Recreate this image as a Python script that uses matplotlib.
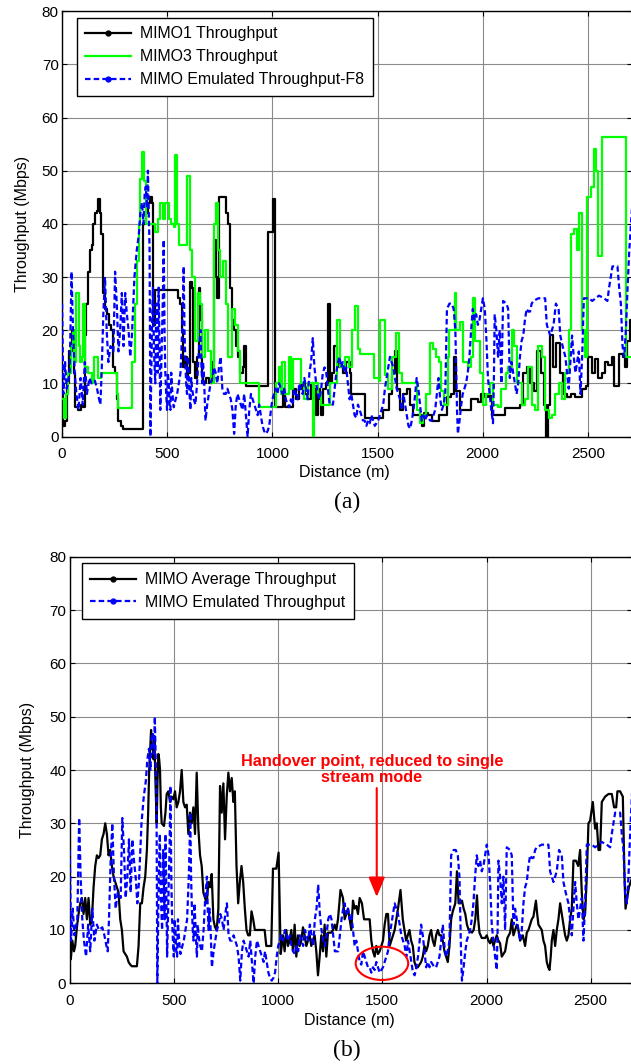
import matplotlib
matplotlib.use("Agg")
import matplotlib.pyplot as plt
from matplotlib.lines import Line2D
from matplotlib.patches import Ellipse

# ---------------- data (distance m, throughput Mbps) ----------------
mimo1 = [(0,8),(5,2),(15,3),(25,10),(35,16),(45,20),(55,12),(62,5.5),(75,5),(90,6),(100,5.5),
 (108,19),(116,25),(124,31),(132,35),(140,36),(148,40),(156,42),(164,42.5),(172,44.7),(180,42),
 (187,38),(196,27),(205,24),(212,23),(222,21),(232,20),(242,13),(252,12),(260,7),(268,3),(278,2),
 (290,1.5),(380,1.5),(387,40),(397,42),(407,44),(417,45),(427,44),(433,21),(440,27.5),(540,27.5),
 (550,26),(560,25),(568,20),(576,13),(585,15),(592,11),(600,12),(608,29),(616,28),(622,14),(632,11),
 (642,15),(650,28),(656,22),(664,12),(672,10),(685,11),(700,10),(712,14),(722,37),(730,30),(738,26),
 (746,45),(770,45),(778,42),(790,40),(800,28),(808,22),(816,20),(826,17),(836,15),(846,12),(858,13),
 (866,17),(873,9.5),(977,38.5),(1005,44.7),(1013,5.5),(1040,5.5),(1050,9),(1058,5.5),(1090,5.5),
 (1100,9),(1112,7),(1128,9),(1140,10),(1155,8),(1170,7),(1185,10),(1200,9),(1207,4),(1215,9),
 (1225,7),(1232,4),(1240,9),(1256,10),(1266,25),(1274,10),(1285,12),(1295,17),(1305,14),(1319,13),
 (1335,12),(1350,14),(1367,12),(1375,8),(1431,8),(1439,3.5),(1519,3.5),(1527,5),(1545,5),(1555,8),
 (1570,12),(1583,16),(1593,9),(1606,5),(1620,8),(1640,9),(1654,6),(1670,4),(1702,4),(1710,2),
 (1720,4.5),(1740,4),(1760,3),(1790,4),(1818,4),(1830,7.5),(1850,8),(1862,15),(1875,8.5),(1890,5),
 (1930,5),(1945,7),(1977,6.5),(1993,8),(2009,7.5),(2025,7.7),(2045,4),(2100,4),(2105,5.3),(2170,5.3),
 (2177,6),(2190,12),(2209,13),(2225,10),(2245,8.5),(2258,16),(2275,12),(2292,6),(2302,0),(2310,6),
 (2318,19),(2333,13),(2350,17.5),(2366,12),(2380,8),(2400,7.5),(2420,8),(2440,7.5),(2470,9),
 (2489,9.5),(2502,15),(2518,12),(2535,14.5),(2550,11),(2566,12),(2582,14),(2598,13.5),(2614,15),
 (2626,9.5),(2645,9.5),(2650,15.5),(2665,15),(2676,13),(2688,18),(2700,22),(2710,22)]

mimo3 = [(0,7),(8,3.5),(20,8),(29,12),(40,17),(50,20),(58,14),(68,27),(78,17),(86,14),(93,15),
 (100,25),(108,13),(124,12),(140,10),(150,15),(164,15),(172,11),(185,12),(252,12),(260,8),(268,5.3),
 (325,5.3),(332,14),(348,25),(356,33),(364,40),(370,48.5),(378,53.5),(390,48),(400,40),(430,40),
 (440,38.5),(455,41),(465,44),(478,41),(490,44),(506,41),(520,40),(531,39.5),(538,53),(546,40),
 (556,36),(586,36),(596,49),(606,35),(616,30),(628,30),(634,18),(644,27),(658,25),(666,15),(680,20),
 (694,16),(708,10),(716,10),(722,40),(732,44),(742,35),(752,30),(766,33),(778,25),(790,15),(806,24),
 (820,21),(836,16),(848,10),(929,10),(935,5.5),(1009,5.5),(1016,10),(1030,13),(1040,8),(1048,14),
 (1060,8),(1078,15),(1088,9),(1100,14.5),(1128,14.5),(1136,10),(1150,7),(1170,10),(1185,10),
 (1192,0),(1198,10),(1215,8),(1230,6),(1262,6),(1272,10),(1300,10),(1308,22),(1322,13),(1345,15),
 (1362,13),(1378,20),(1395,24.5),(1405,16.5),(1415,15.5),(1470,15.5),(1485,11),(1505,10.5),
 (1511,22),(1530,22),(1537,11.5),(1550,9),(1570,15),(1586,19.5),(1600,12),(1615,10),(1670,10),
 (1686,5),(1700,2.5),(1716,4),(1732,8),(1748,17.5),(1766,16.5),(1780,15),(1790,14),(1800,8.5),
 (1818,6),(1835,15),(1842,20),(1860,20),(1866,27),(1874,20),(1890,21.5),(1905,14),(1929,13),
 (1945,15),(1953,26),(1965,18),(1985,12),(2001,6),(2017,8),(2033,10),(2050,6),(2073,5.5),(2089,9),
 (2110,12),(2121,13),(2137,20),(2150,17),(2165,10),(2185,6),(2201,7),(2217,13),(2233,6),(2249,5),
 (2265,17),(2281,15),(2297,5),(2313,3.5),(2329,4),(2345,8),(2361,10),(2377,7),(2393,12),(2409,20),
 (2420,38),(2435,39),(2450,35),(2460,42),(2470,20),(2485,15),(2498,45),(2515,47),(2527,54),
 (2538,50),(2548,34),(2563,34),(2569,56.3),(2677,56.3),(2682,15),(2710,15)]

emulated = [(0,25),(6,8),(14,14),(22,9),(36,12),(45,31),(52,20),(60,12),(68,8),(78,5),(88,11),(98,6),
 (108,14),(118,8),(130,11),(140,10),(156,10.5),(166,9),(176,7),(182,6),(188,12),(196,23),(204,30),
 (212,20),(220,14),(230,17),(244,16),(252,31),(260,25),(268,16),(276,20),(284,27),(292,17),(300,27),
 (308,23),(316,20),(324,15),(332,19),(344,30),(355,35),(365,38),(372,42),(380,44),(387,40),(393,46),
 (398,47),(404,43),(408,50),(413,40),(416,35),(420,0),(424,12),(427,20),(432,28),(437,16),(443,10),
 (448,25),(451,20),(455,12),(459,28),(463,18),(467,5),(472,14),(475,20),(479,26),(483,37),(487,20),
 (491,12),(495,8),(499,5),(503,12),(507,10),(511,6),(515,5),(519,12),(523,9),(527,7),(531,5.5),
 (540,7),(547,8),(555,10),(563,12),(567,16),(571,20),(575,26),(578,32),(582,20),(586,14),(590,10),
 (594,8),(598,15),(602,12),(606,8),(610,5),(614,11),(618,9),(626,7),(634,6),(642,10),(650,16),
 (658,20),(662,14),(666,10),(670,14),(674,12),(682,3),(690,6),(698,8),(706,10),(714,11),(722,13),
 (730,12),(738,10),(746,13),(754,15),(762,9),(770,8),(778,8),(786,9),(794,8),(802,7),(810,5),
 (818,0.5),(826,6),(834,8),(842,7),(850,6),(858,5),(866,8),(874,4),(882,0),(890,5),(898,8),(906,7),
 (914,6),(922,5),(930,4),(937,6),(945,4),(953,2),(961,1),(969,0.5),(977,1),(985,2),(993,5),(1000,7),
 (1008,8),(1016,9),(1024,8),(1032,10),(1040,9),(1048,8),(1056,9),(1064,7),(1072,6),(1080,5.5),
 (1088,7),(1096,6),(1104,9),(1112,8),(1120,7),(1128,10),(1136,9),(1144,8),(1152,11),(1160,9),
 (1168,7),(1176,12),(1184,14),(1192,18.5),(1200,13),(1208,10),(1216,8),(1224,7),(1232,9),(1240,12),
 (1248,13),(1256,12),(1264,9),(1272,6),(1288,6),(1296,9),(1304,12),(1312,14),(1319,15),(1327,13),
 (1335,14),(1343,12),(1351,13),(1359,10),(1367,7),(1375,8),(1383,6),(1391,4),(1399,3.5),(1407,6),
 (1415,5),(1423,4),(1431,3),(1439,3),(1447,2),(1455,3),(1463,2.5),(1471,4),(1479,3),(1487,2),
 (1495,2.5),(1503,3),(1511,4),(1519,5),(1527,6),(1535,9),(1543,11),(1551,13),(1559,15),(1567,14),
 (1575,13),(1583,11),(1591,9),(1599,8),(1607,7),(1615,5),(1623,8),(1631,6),(1639,4),(1647,2),
 (1655,1.5),(1663,3),(1671,5),(1679,8),(1686,11),(1694,9),(1702,6),(1710,3),(1718,4),(1726,3),
 (1734,4),(1742,3.5),(1750,3),(1758,3),(1766,4),(1774,5),(1782,8),(1790,11),(1798,7),(1806,5),
 (1814,6),(1822,8),(1830,24),(1842,25),(1852,25),(1862,24),(1870,20),(1874,12),(1878,5),(1882,0.5),
 (1890,3),(1898,6),(1905,8),(1913,9),(1921,10),(1929,12),(1937,15),(1945,20),(1953,24),(1961,22),
 (1969,23),(1977,21),(1985,22),(1993,24),(2001,26),(2010,24),(2018,18),(2025,11),(2033,8),(2041,5),
 (2049,2.5),(2053,10),(2057,23),(2065,20),(2073,15),(2081,20),(2089,10),(2093,18),(2097,25.5),
 (2113,25),(2121,24),(2129,11),(2137,14),(2145,12),(2153,10),(2161,8),(2169,10),(2177,15),(2185,18),
 (2193,19),(2201,22),(2209,24),(2217,23.5),(2225,23.5),(2233,25),(2241,25.5),(2265,26),(2297,26),
 (2305,21),(2313,20),(2321,19),(2329,20),(2337,21),(2348,25),(2361,24),(2369,19),(2380,17),
 (2393,15),(2401,12),(2409,9),(2417,14),(2425,19),(2433,15),(2441,12),(2449,14),(2457,16),(2465,8),
 (2473,15),(2481,26),(2505,26),(2521,25.5),(2537,26),(2553,26.5),(2577,26),(2593,25.5),(2601,28),
 (2609,30),(2617,32),(2641,32),(2649,28),(2657,25),(2665,17),(2673,15),(2681,20),(2689,28),
 (2697,35),(2710,43)]

mimo_avg = [(0,8),(5,4.5),(12,8),(20,6),(26,7),(34,10.5),(42,13),(50,15),(58,16),(66,13),(74,16),
 (82,12),(90,16),(98,11),(106,12),(114,18),(122,22),(130,24),(138,23.5),(146,24),(154,27),(162,28),
 (170,30),(178,28),(186,24),(194,25),(202,22),(210,20),(218,19),(226,18),(234,17),(242,12),(250,10),
 (258,6),(266,5.5),(274,5),(282,4),(290,3.5),(298,3.2),(322,3.2),(330,7),(338,15),(346,15),(354,18),
 (362,20),(370,25),(376,32),(381,40),(386,44),(390,47.5),(394,44),(397,45),(402,42),(406,46),
 (411,38),(417,30),(421,38),(425,43),(429,42),(433,40),(437,33),(441,30),(452,29.5),(459,32),
 (465,35.5),(473,36),(481,34),(489,35),(497,34.5),(505,36),(513,33),(521,34),(529,36),(537,40),
 (545,34),(553,33),(561,33.5),(569,28),(577,32),(585,30),(593,33),(601,28),(609,39.5),(617,29),
 (625,24),(633,22),(641,17),(649,16),(657,15),(665,19),(673,18),(681,20.5),(689,12),(697,10.5),
 (705,10),(713,14),(721,37),(729,32),(737,37.5),(745,27),(753,35),(761,39.5),(769,36),(777,38.5),
 (785,34),(792,36),(800,22),(808,15),(816,19),(824,22),(832,19),(840,14),(848,10),(856,9),(864,9),
 (872,13.5),(880,12),(888,10),(935,10),(943,7),(967,7),(975,21.5),(991,21.5),(1002,24.5),(1012,5.5),
 (1017,7),(1023,9),(1031,6),(1039,10),(1047,7),(1055,8),(1063,10),(1071,6),(1079,11),(1087,5),
 (1095,9),(1103,7),(1111,8),(1119,10.5),(1127,9),(1135,7),(1143,8),(1151,9),(1159,7),(1167,8),
 (1175,9),(1183,6),(1191,1.5),(1199,5),(1207,9),(1215,6),(1223,11),(1231,5),(1239,9.5),(1255,9.5),
 (1263,10),(1271,11),(1279,10),(1287,12),(1299,17.5),(1311,16),(1319,12),(1327,13),(1335,14),
 (1343,12),(1351,10),(1359,15.5),(1367,14),(1375,14.5),(1383,13),(1391,16),(1402,15),(1412,12),
 (1439,12),(1447,8),(1455,6),(1463,5),(1471,7),(1479,5.5),(1487,6),(1495,7),(1503,8),(1511,11),
 (1519,13),(1527,13),(1535,7),(1543,8),(1551,9),(1559,10),(1567,12),(1575,14),(1587,17.5),(1598,12),
 (1606,10),(1614,8),(1622,9),(1630,10),(1638,8),(1646,7),(1654,4),(1662,3),(1670,3),(1678,3.5),
 (1686,4),(1694,5),(1702,7),(1710,6),(1718,7),(1726,9),(1734,10),(1742,8),(1750,7),(1758,9),
 (1766,10),(1774,9),(1782,9),(1790,8),(1798,6),(1806,5),(1814,4),(1822,7),(1830,12),(1838,13.5),
 (1850,15),(1858,21),(1866,15),(1874,15),(1882,15.5),(1890,14),(1898,13),(1906,11),(1914,10),
 (1930,9.5),(1938,10),(1946,12),(1954,16.5),(1960,12),(1966,9.5),(1977,8.5),(1993,8.5),(2001,9),
 (2009,8),(2017,7.5),(2025,8.5),(2033,7),(2041,8),(2049,9),(2057,8),(2065,7.5),(2073,5),(2081,5.5),
 (2089,6),(2100,8.5),(2113,9.5),(2121,12),(2129,9),(2137,10),(2145,11),(2153,10),(2161,8),(2174,9),
 (2185,7),(2193,9.5),(2201,10),(2209,11),(2217,12),(2225,12.5),(2237,15.5),(2243,13),(2249,11),
 (2257,10.5),(2265,10),(2273,8),(2281,7),(2289,4),(2296,3),(2302,2.5),(2308,5),(2313,8),(2321,10),
 (2329,7),(2337,10),(2345,12),(2353,15),(2361,13),(2369,11),(2377,9),(2385,8),(2393,9),(2401,12),
 (2409,14),(2417,23),(2429,23),(2440,22),(2449,25),(2457,17),(2465,12),(2473,13),(2481,20),(2489,30),
 (2497,30.5),(2510,34),(2521,29),(2529,30),(2537,25),(2545,25),(2553,34),(2569,35),(2585,35.5),
 (2601,35.5),(2612,33),(2622,33),(2628,36),(2641,36),(2654,35),(2662,20),(2667,14),(2675,16),
 (2683,18),(2700,20)]

x_ticks = [0, 500, 1000, 1500, 2000, 2500]
y_ticks = [0, 10, 20, 30, 40, 50, 60, 70, 80]
labels_a = ["MIMO1 Throughput", "MIMO3 Throughput", "MIMO Emulated Throughput-F8"]
labels_b = ["MIMO Average Throughput", "MIMO Emulated Throughput"]
note = "Handover point, reduced to single\nstream mode"

def split(pairs):
    return [p[0] for p in pairs], [p[1] for p in pairs]

# ---------------- figure ----------------
W, H = 631, 1064
fig = plt.figure(figsize=(W / 100, H / 100), dpi=100)
SANS = ["Liberation Sans", "DejaVu Sans"]
plt.rcParams["font.family"] = SANS

BLACK = "#000000"
GREEN = "#00ff00"
BLUE = "#0000ff"
LW = 1.6
DASH = (2.5, 1.4)

def px_axes(left, right, top, bottom):
    return fig.add_axes([left / W, 1 - bottom / H, (right - left) / W, (bottom - top) / H])

def style(ax, xmax):
    ax.set_xlim(0, xmax)
    ax.set_ylim(0, 80)
    ax.set_xticks(x_ticks)
    ax.set_yticks(y_ticks)
    ax.grid(True, color="#8a8a8a", lw=0.8, ls="-")
    ax.set_axisbelow(True)
    ax.tick_params(direction="in", top=True, right=True, length=3.5, width=0.8,
                   labelsize=11, colors="black")
    ax.tick_params(axis="x", pad=7.5)
    ax.tick_params(axis="y", pad=2.5)
    for s in ax.spines.values():
        s.set_linewidth(1.0)
        s.set_color("black")
    ax.set_xlabel("Distance (m)", fontsize=11.5)
    ax.set_ylabel("Throughput (Mbps)", fontsize=11.5)
    ax.xaxis.label.set_va("center")
    ax.yaxis.label.set_va("center")

def legend(handles, labels, x, y):
    lg = fig.legend(handles, labels, loc="upper left", bbox_to_anchor=(x / W, 1 - y / H),
                    bbox_transform=fig.transFigure, borderaxespad=0, fontsize=11.4,
                    handlelength=2.9, handletextpad=0.55, labelspacing=0.5,
                    borderpad=0.55, fancybox=False, framealpha=1, edgecolor="black")
    lg.get_frame().set_linewidth(1.0)
    return lg

# ---- (a) ----
ax1 = px_axes(62.1, 632, 11.2, 436.5)
style(ax1, 2710)
d, v = split(mimo1)
ax1.plot(d, v, color=BLACK, lw=LW, drawstyle="steps-post", zorder=3)
d, v = split(mimo3)
ax1.plot(d, v, color=GREEN, lw=LW, drawstyle="steps-post", zorder=3)
d, v = split(emulated)
ax1.plot(d, v, color=BLUE, lw=LW, ls=(0, DASH), zorder=4)
ax1.xaxis.set_label_coords(0.495, -36.5 / 425.3)
ax1.yaxis.set_label_coords(-40.1 / 569.9, 0.5)

h_a = [Line2D([], [], color=BLACK, lw=LW, marker=".", ms=7),
       Line2D([], [], color=GREEN, lw=LW),
       Line2D([], [], color=BLUE, lw=LW, ls=(0, DASH), marker=".", ms=7)]
legend(h_a, labels_a, 76.7, 17.7)

fig.text(346.7 / W, 1 - 502 / H, "(a)", ha="center", va="center", fontsize=17,
         family=["Liberation Serif", "DejaVu Serif"])

# ---- (b) ----
ax2 = px_axes(69.8, 632, 556.7, 983.3)
style(ax2, 2698)
d, v = split(mimo_avg)
ax2.plot(d, v, color=BLACK, lw=LW, zorder=3)
d, v = split(emulated)
ax2.plot(d, v, color=BLUE, lw=LW, ls=(0, DASH), zorder=4)
ax2.xaxis.set_label_coords(0.498, -36.7 / 426.6)
ax2.yaxis.set_label_coords(-41.8 / 562.2, 0.5)

h_b = [Line2D([], [], color=BLACK, lw=LW, marker=".", ms=7),
       Line2D([], [], color=BLUE, lw=LW, ls=(0, DASH), marker=".", ms=7)]
legend(h_b, labels_b, 81.7, 563.4)

ax2.text(1450, 40.1, note, ha="center", va="center", multialignment="center",
         color="#ff0000", fontsize=11.7, fontweight="bold", linespacing=1.15, zorder=6)
ax2.annotate("", xy=(1473, 16.2), xytext=(1473, 36.6),
             arrowprops=dict(arrowstyle="-|>,head_length=0.6,head_width=0.25",
                             color="#ff0000", lw=1.5, mutation_scale=20,
                             shrinkA=0, shrinkB=0), zorder=6)
ax2.add_patch(Ellipse((1498, 3.74), 252, 6.24, fill=False, edgecolor="#ff0000",
                      lw=1.5, zorder=6))

fig.text(346.7 / W, 1 - 1050.7 / H, "(b)", ha="center", va="center", fontsize=17,
         family=["Liberation Serif", "DejaVu Serif"])

fig.savefig("out.png", dpi=100)
